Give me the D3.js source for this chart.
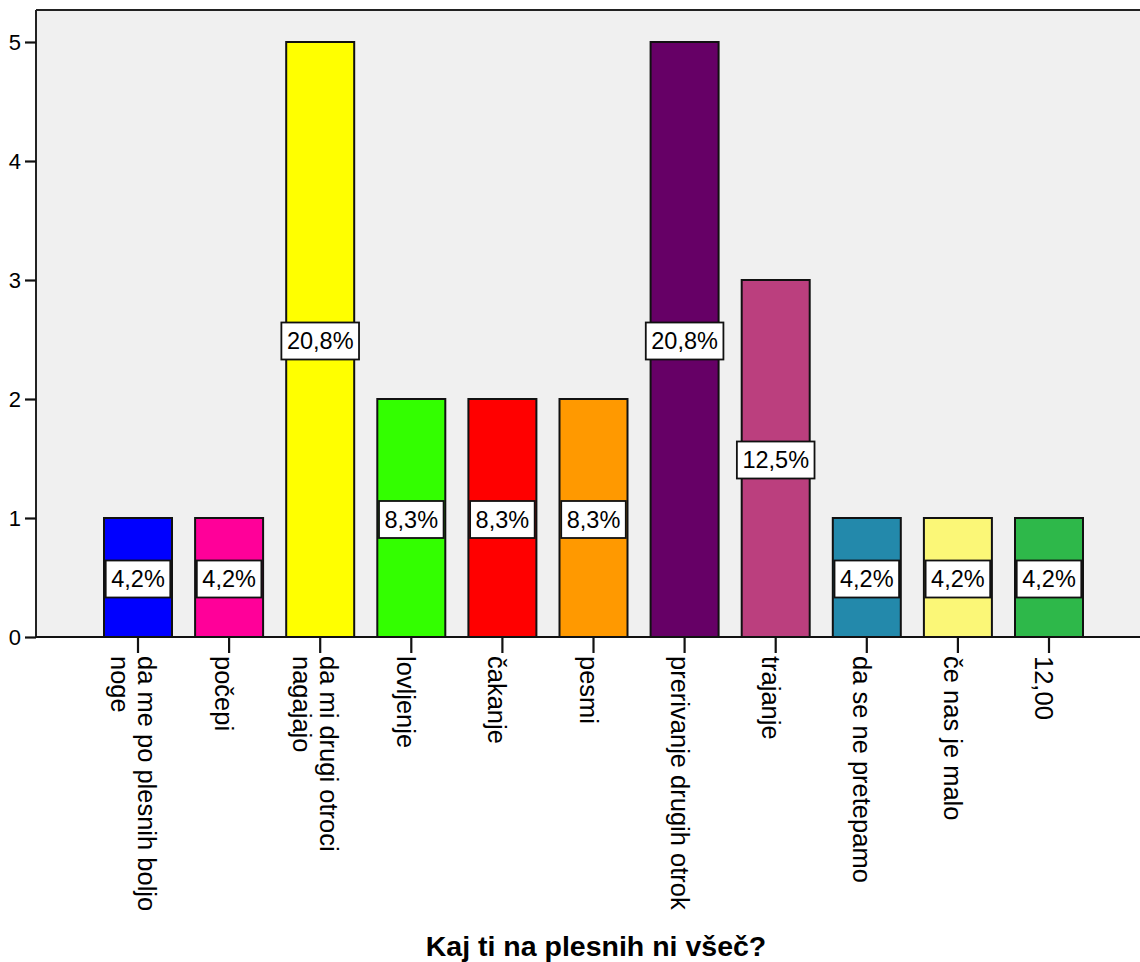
<!DOCTYPE html>
<html><head><meta charset="utf-8">
<script src="https://cdn.jsdelivr.net/npm/d3@7"></script>
<style>
body{margin:0;background:#fff}
text{font-family:"Liberation Sans",Arial,Helvetica,sans-serif;fill:#000}
</style>
</head><body>
<svg id="chart" width="1140" height="962"></svg>
<script>
// ---- data ----
const categories = [
  "da me po plesnih boljo noge",
  "počepi",
  "da mi drugi otroci nagajajo",
  "lovljenje",
  "čakanje",
  "pesmi",
  "prerivanje drugih otrok",
  "trajanje",
  "da se ne pretepamo",
  "če nas je malo",
  "12,00"
];
const counts = [1, 1, 5, 2, 2, 2, 5, 3, 1, 1, 1];
const percentLabels = ["4,2%", "4,2%", "20,8%", "8,3%", "8,3%", "8,3%", "20,8%", "12,5%", "4,2%", "4,2%", "4,2%"];
const barColors = ["#0000FF", "#FF0099", "#FFFF00", "#33FF00", "#FF0000", "#FF9900",
                   "#660066", "#BB3F7E", "#2389AB", "#FBF777", "#2EB84A"];
const yTicks = [0, 1, 2, 3, 4, 5];
const axisTitle = "Kaj ti na plesnih ni všeč?";

// ---- layout ----
const svg = d3.select("#chart");
const plotLeft = 36, plotRight = 1140, plotTop = 10, plotBottom = 637;

const y = d3.scaleLinear().domain([0, 5]).range([plotBottom, 42]);
const step = 91.1;
const x = d3.scaleBand()
  .domain(categories)
  .range([138 - step / 2, 138 - step / 2 + step * categories.length])
  .paddingInner(1 - 68 / step)
  .paddingOuter((1 - 68 / step) / 2);

// plot background
svg.append("rect")
  .attr("x", plotLeft).attr("y", plotTop)
  .attr("width", plotRight - plotLeft).attr("height", plotBottom - plotTop)
  .attr("fill", "#F0F0F0");

// frame (top + left)
svg.append("line").attr("x1", plotLeft).attr("x2", plotRight)
  .attr("y1", plotTop).attr("y2", plotTop)
  .attr("stroke", "#222").attr("stroke-width", 2);
svg.append("line").attr("x1", plotLeft).attr("x2", plotLeft)
  .attr("y1", plotTop).attr("y2", plotBottom)
  .attr("stroke", "#222").attr("stroke-width", 2);

// bars
svg.append("g").selectAll("rect")
  .data(categories)
  .join("rect")
  .attr("x", d => x(d))
  .attr("width", x.bandwidth())
  .attr("y", (d, i) => y(counts[i]))
  .attr("height", (d, i) => y(0) - y(counts[i]))
  .attr("fill", (d, i) => barColors[i])
  .attr("stroke", "#111")
  .attr("stroke-width", 2);

// baseline
svg.append("line").attr("x1", plotLeft).attr("x2", plotRight)
  .attr("y1", plotBottom).attr("y2", plotBottom)
  .attr("stroke", "#111").attr("stroke-width", 2);

// y axis
const yAxis = svg.append("g")
  .attr("transform", `translate(${plotLeft},0)`)
  .call(d3.axisLeft(y).tickValues(yTicks).tickFormat(d3.format("d")).tickSize(11).tickPadding(4));
yAxis.select(".domain").remove();
yAxis.selectAll(".tick line").attr("stroke", "#111").attr("stroke-width", 2.2);
yAxis.selectAll(".tick text").attr("font-size", 22).attr("font-family", null).attr("fill", "#000");

// x axis ticks
const xAxis = svg.append("g")
  .attr("transform", `translate(0,${plotBottom})`)
  .call(d3.axisBottom(x).tickSize(16).tickFormat(""));
xAxis.select(".domain").remove();
xAxis.selectAll(".tick line").attr("stroke", "#111").attr("stroke-width", 2.2);

// x tick labels (rotated, wrapped)
const labelFont = 25.5, maxLabelWidth = 266, lineGap = 27;
const measurer = svg.append("text").attr("font-size", labelFont).attr("visibility", "hidden");
function wrap(str) {
  const words = str.split(" ");
  const lines = [];
  let cur = "";
  for (const w of words) {
    const test = cur ? cur + " " + w : w;
    measurer.text(test);
    if (cur && measurer.node().getComputedTextLength() > maxLabelWidth) {
      lines.push(cur); cur = w;
    } else cur = test;
  }
  if (cur) lines.push(cur);
  return lines;
}
const xl = svg.append("g").selectAll("g")
  .data(categories)
  .join("g")
  .attr("transform", d => `translate(${x(d) + x.bandwidth() / 2},${plotBottom + 19}) rotate(90)`);
xl.each(function (d) {
  const lines = wrap(d);
  const n = lines.length;
  d3.select(this).selectAll("text")
    .data(lines)
    .join("text")
    .attr("x", 0)
    .attr("y", (l, i) => 14 + (i - (n - 1) / 2) * lineGap)
    .attr("font-size", labelFont)
    .attr("text-anchor", "start")
    .text(l => l);
});
measurer.remove();

// percent labels
const pl = svg.append("g").selectAll("g")
  .data(categories)
  .join("g")
  .attr("transform", (d, i) => `translate(${x(d) + x.bandwidth() / 2},${y(counts[i] / 2) + 1.5})`);
pl.each(function (d, i) {
  const g = d3.select(this);
  const t = g.append("text")
    .attr("text-anchor", "middle")
    .attr("dy", "0.36em")
    .attr("font-size", 23.5)
    .text(percentLabels[i]);
  const w = t.node().getComputedTextLength() + 11;
  g.insert("rect", "text")
    .attr("x", -w / 2).attr("y", -18.5)
    .attr("width", w).attr("height", 37)
    .attr("fill", "#fff")
    .attr("stroke", "#111")
    .attr("stroke-width", 1.8);
});

// axis title
svg.append("text")
  .attr("x", 596).attr("y", 956)
  .attr("text-anchor", "middle")
  .attr("font-size", 28.5)
  .attr("font-weight", "bold")
  .text(axisTitle);
</script>
</body></html>
